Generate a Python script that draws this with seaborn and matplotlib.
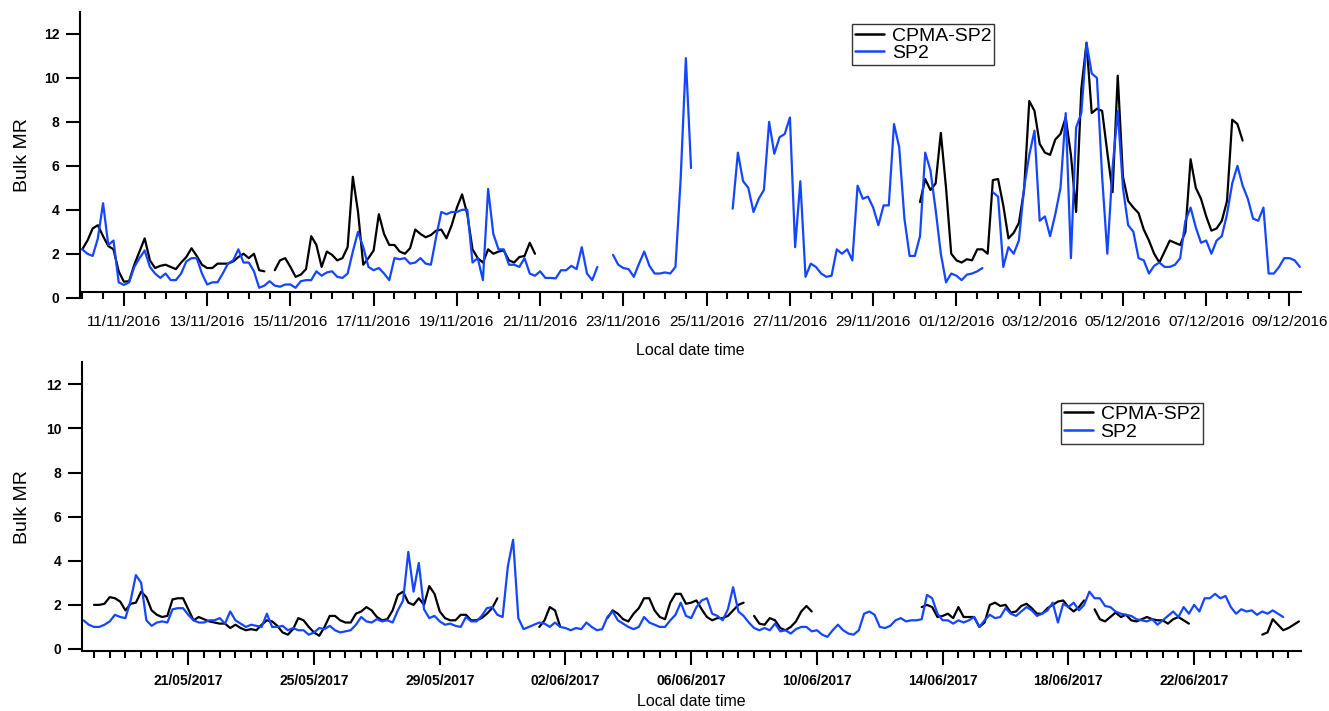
import numpy as np
import pandas as pd
import matplotlib
matplotlib.use("Agg")
import matplotlib.pyplot as plt
import matplotlib.dates as mdates
from matplotlib.lines import Line2D
import seaborn as sns

nan = np.nan

# ---------------- data ----------------
series_names = ["CPMA-SP2", "SP2"]
series_colors = ["#000000", "#1446ff"]

# Top panel (Nov-Dec 2016): 3-hourly values starting 10/11/2016 00:00
top_start = "2016-11-10 00:00"
top_step = "3h"
top_sp2 = [
    2.2, 2.0, 1.9, 2.7, 4.3, 2.4, 2.6, 0.7, 0.58, 0.7,
    1.4, 1.8, 2.15, 1.4, 1.1, 0.9, 1.1, 0.8, 0.8, 1.1,
    1.65, 1.8, 1.8, 1.1, 0.6, 0.7, 0.7, 1.1, 1.55, 1.7,
    2.2, 1.6, 1.6, 1.2, 0.45, 0.55, 0.75, 0.55, 0.5, 0.6,
    0.6, 0.45, 0.75, 0.8, 0.8, 1.2, 1.0, 1.15, 1.2, 0.95,
    0.9, 1.1, 2.1, 3.0, 2.3, 1.4, 1.25, 1.35, 1.1, 0.8,
    1.8, 1.75, 1.8, 1.55, 1.6, 1.8, 1.55, 1.5, 2.75, 3.9,
    3.8, 3.9, 3.9, 4.0, 4.0, 1.6, 1.8, 0.8, 4.95, 2.9,
    2.2, 2.2, 1.5, 1.5, 1.4, 1.8, 1.1, 1.0, 1.2, 0.9,
    0.9, 0.88, 1.25, 1.25, 1.45, 1.3, 2.3, 1.1, 0.8, 1.4,
    nan, nan, 1.95, 1.5, 1.35, 1.3, 0.95, 1.55, 2.1, 1.45,
    1.1, 1.1, 1.15, 1.1, 1.4, 5.4, 10.9, 5.9, nan, nan,
    nan, nan, nan, nan, nan, 4.05, 6.6, 5.3, 5.0, 3.9,
    4.5, 4.9, 8.0, 6.55, 7.3, 7.45, 8.2, 2.3, 5.3, 0.95,
    1.55, 1.4, 1.1, 0.95, 1.0, 2.2, 2.0, 2.2, 1.7, 5.1,
    4.5, 4.6, 4.1, 3.3, 4.2, 4.2, 7.9, 6.85, 3.6, 1.9,
    1.9, 2.8, 6.6, 5.8, 4.0, 2.0, 0.7, 1.1, 1.0, 0.8,
    1.05, 1.1, 1.2, 1.35, nan, 4.8, 4.6, 1.4, 2.3, 2.0,
    2.6, 5.0, 6.5, 7.6, 3.5, 3.7, 2.8, 3.8, 5.0, 8.4,
    1.8, 7.75, 8.4, 11.6, 10.2, 10.0, 5.5, 2.0, 5.9, 8.5,
    5.0, 3.3, 3.0, 1.8, 1.7, 1.1, 1.45, 1.6, 1.4, 1.4,
    1.5, 1.8, 3.5, 4.1, 3.2, 2.5, 2.6, 2.0, 2.6, 2.8,
    3.8, 5.2, 6.0, 5.1, 4.5, 3.6, 3.5, 4.1, 1.1, 1.1,
    1.4, 1.8, 1.8, 1.7, 1.4,
]
top_cpma = [
    2.2, 2.6, 3.15, 3.3, 2.8, 2.35, 2.2, 1.2, 0.73, 0.75,
    1.5, 2.1, 2.7, 1.7, 1.35, 1.45, 1.5, 1.4, 1.3, 1.6,
    1.85, 2.25, 1.9, 1.5, 1.35, 1.35, 1.55, 1.55, 1.55, 1.65,
    1.85, 2.0, 1.8, 2.0, 1.25, 1.2, nan, 1.25, 1.7, 1.8,
    1.4, 0.95, 1.05, 1.3, 2.8, 2.4, 1.4, 2.1, 1.95, 1.7,
    1.8, 2.3, 5.5, 3.9, 1.5, 1.8, 2.15, 3.8, 2.9, 2.4,
    2.4, 2.1, 2.0, 2.25, 3.1, 2.9, 2.75, 2.85, 3.05, 3.1,
    2.7, 3.3, 4.1, 4.7, 3.8, 2.2, 1.8, 1.6, 2.2, 2.0,
    2.1, 2.15, 1.7, 1.6, 1.85, 1.9, 2.5, 2.0,
] + [nan] * 73 + [
    4.35, 5.4, 4.9, 5.2, 7.5, 5.0, 2.0, 1.7, 1.6,
    1.75, 1.7, 2.2, 2.2, 2.0, 5.35, 5.4, 4.2, 2.7, 2.95,
    3.4, 4.9, 8.95, 8.5, 7.0, 6.6, 6.5, 7.2, 7.45, 8.2,
    6.5, 3.9, 9.5, 11.6, 8.4, 8.6, 8.5, 6.6, 4.8, 10.1,
    5.5, 4.4, 4.1, 3.85, 3.1, 2.6, 2.0, 1.6, 2.1, 2.6,
    2.5, 2.4, 3.0, 6.3, 5.0, 4.5, 3.7, 3.05, 3.15, 3.5,
    4.4, 8.1, 7.9, 7.15,
]

# Bottom panel (May-Jun 2017): 4-hourly values starting 17/05/2017 16:00
bot_start = "2017-05-17 16:00"
bot_step = "4h"
bot_sp2 = [
    1.3, 1.1, 1.0, 1.0, 1.1, 1.25, 1.55, 1.45, 1.4, 2.2,
    3.35, 3.0, 1.3, 1.05, 1.2, 1.25, 1.2, 1.8, 1.85, 1.85,
    1.55, 1.3, 1.2, 1.2, 1.3, 1.3, 1.4, 1.15, 1.7, 1.3,
    1.15, 1.0, 1.1, 1.05, 1.0, 1.6, 1.0, 1.0, 1.05, 0.85,
    0.95, 0.85, 0.85, 0.65, 0.75, 0.95, 0.9, 1.05, 0.85, 0.75,
    0.8, 0.85, 1.1, 1.45, 1.25, 1.2, 1.35, 1.25, 1.3, 1.2,
    1.75, 2.2, 4.4, 2.6, 3.9, 1.8, 1.4, 1.5, 1.25, 1.1,
    1.15, 1.05, 1.0, 1.45, 1.25, 1.25, 1.5, 1.85, 1.9, 1.55,
    1.45, 3.75, 4.95, 1.4, 0.9, 1.0, 1.1, 1.2, 1.15, 1.0,
    1.2, 1.0, 0.95, 0.85, 0.95, 0.9, 1.2, 1.0, 0.85, 0.9,
    1.45, 1.7, 1.3, 1.15, 1.0, 0.9, 1.0, 1.45, 1.2, 1.1,
    1.0, 1.0, 1.3, 1.55, 2.1, 1.5, 1.4, 1.9, 2.2, 2.3,
    1.6, 1.5, 1.3, 1.8, 2.8, 1.7, 1.5, 1.2, 0.95, 0.85,
    0.95, 0.85, 1.15, 0.8, 0.85, 0.7, 0.9, 1.0, 1.0, 0.8,
    0.85, 0.65, 0.55, 0.85, 1.1, 0.85, 0.7, 0.65, 0.85, 1.6,
    1.7, 1.55, 1.0, 0.95, 1.05, 1.3, 1.4, 1.25, 1.3, 1.3,
    1.35, 2.45, 2.3, 1.6, 1.3, 1.3, 1.15, 1.3, 1.2, 1.3,
    1.45, 1.0, 1.3, 1.55, 1.4, 1.45, 1.85, 1.6, 1.5, 1.7,
    1.9, 1.75, 1.5, 1.6, 1.75, 2.1, 1.2, 2.05, 1.9, 2.1,
    1.75, 2.0, 2.6, 2.3, 2.3, 1.95, 1.9, 1.7, 1.6, 1.55,
    1.5, 1.35, 1.3, 1.25, 1.35, 1.1, 1.3, 1.5, 1.7, 1.45,
    1.9, 1.6, 2.0, 1.7, 2.3, 2.3, 2.5, 2.3, 2.4, 1.9,
    1.6, 1.8, 1.7, 1.75, 1.55, 1.7, 1.6, 1.75, 1.6, 1.45,
    nan, nan, nan,
]
bot_cpma = [
    nan, nan, 2.0, 2.0, 2.05, 2.35, 2.3, 2.15, 1.75, 2.05,
    2.1, 2.6, 2.35, 1.75, 1.55, 1.45, 1.5, 2.25, 2.3, 2.3,
    1.8, 1.3, 1.45, 1.35, 1.25, 1.2, 1.15, 1.15, 0.95, 1.1,
    0.95, 0.85, 0.9, 0.85, 1.1, 1.3, 1.25, 1.05, 0.75, 0.65,
    0.9, 1.4, 1.3, 1.0, 0.75, 0.6, 1.0, 1.5, 1.5, 1.3,
    1.2, 1.2, 1.6, 1.7, 1.9, 1.75, 1.45, 1.3, 1.35, 1.75,
    2.45, 2.6, 2.1, 2.0, 2.3, 2.0, 2.85, 2.5, 1.7, 1.4,
    1.3, 1.3, 1.55, 1.55, 1.3, 1.3, 1.4, 1.6, 1.85, 2.3,
    nan, nan, nan, nan, nan, nan, nan, 1.0, 1.3, 1.9,
    1.75, 1.0, nan, nan, nan, nan, nan, nan, nan, nan,
    1.4, 1.75, 1.6, 1.35, 1.25, 1.6, 1.85, 2.3, 2.3, 1.75,
    1.45, 1.35, 2.1, 2.5, 2.5, 2.05, 2.1, 2.2, 1.8, 1.45,
    1.3, 1.4, 1.4, 1.5, 1.75, 2.0, 2.1, nan, 1.5, 1.15,
    1.1, 1.4, 1.3, 0.95, 0.85, 1.0, 1.25, 1.7, 1.95, 1.7,
    nan, nan, nan, nan, nan, nan, nan, nan, nan, nan,
    nan, nan, nan, nan, nan, nan, nan, nan, nan, nan,
    1.9, 2.0, 1.9, 1.45, 1.5, 1.6, 1.4, 1.9, 1.45, 1.45,
    1.45, 1.0, 1.2, 2.0, 2.1, 1.95, 2.0, 1.65, 1.7, 1.95,
    2.05, 1.85, 1.6, 1.6, 1.85, 2.0, 2.15, 2.2, 1.9, 1.7,
    1.9, 2.2, nan, 1.8, 1.35, 1.25, 1.45, 1.65, 1.45, 1.55,
    1.3, 1.25, 1.35, 1.45, 1.35, 1.3, 1.3, 1.15, 1.35, 1.45,
    1.3, 1.15, nan, nan, nan, nan, nan, nan, nan, nan,
    nan, nan, nan, nan, nan, 0.65, 0.75, 1.35, 1.1, 0.85,
    0.95, 1.1, 1.25,
]

# axis ticks
y_ticks = [0, 2, 4, 6, 8, 10, 12]
top_major = pd.date_range("2016-11-11", "2016-12-09", freq="2D")
top_minor = pd.date_range("2016-11-10", "2016-12-09", freq="12h")
bot_major = pd.date_range("2017-05-21", "2017-06-22", freq="4D")
bot_minor = pd.date_range("2017-05-18", "2017-06-25", freq="12h")
top_xlim = (pd.Timestamp("2016-11-10 00:00") - pd.Timedelta(hours=1.3),
            pd.Timestamp("2016-11-10 00:00") + pd.Timedelta(days=29.27))
bot_xlim = (pd.Timestamp("2017-05-18 00:00") - pd.Timedelta(days=0.372),
            pd.Timestamp("2017-05-18 00:00") + pd.Timedelta(days=38.39))

# ---------------- style ----------------
sns.set_theme(style="ticks", rc={
    "text.color": "black", "axes.labelcolor": "black",
    "xtick.color": "black", "ytick.color": "black",
    "axes.edgecolor": "black",
})
plt.rcParams["font.family"] = ["Liberation Sans", "DejaVu Sans"]

W, H = 1329, 711
fig = plt.figure(figsize=(W / 100, H / 100), dpi=100)
ax1 = fig.add_axes([80 / W, 1 - 297.7 / H, 1220.7 / W, 285.7 / H])
ax2 = fig.add_axes([82.3 / W, 1 - 651.2 / H, 1218.4 / W, 289.0 / H])


def draw(ax, start, step, values, color):
    t = pd.date_range(start, periods=len(values), freq=step)
    v = pd.Series(values, dtype=float)
    df = pd.DataFrame({"time": t, "value": v.values,
                       "seg": v.isna().cumsum().values}).dropna()
    sns.lineplot(data=df, x="time", y="value", units="seg", estimator=None,
                 color=color, lw=1.6, ax=ax, legend=False)


draw(ax1, top_start, top_step, top_cpma, series_colors[0])
draw(ax1, top_start, top_step, top_sp2, series_colors[1])
draw(ax2, bot_start, bot_step, bot_cpma, series_colors[0])
draw(ax2, bot_start, bot_step, bot_sp2, series_colors[1])


def style_axis(ax, major, minor, xlim, ylim, xlab_y, ylab_x, legend_xy):
    ax.set_xlim(mdates.date2num(xlim[0]), mdates.date2num(xlim[1]))
    ax.set_ylim(*ylim)
    sns.despine(ax=ax)
    for s in ("left", "bottom"):
        ax.spines[s].set_linewidth(1.5)
    ax.set_xticks(mdates.date2num(major),
                  labels=[d.strftime("%d/%m/%Y") for d in major],
                  fontweight="bold", fontsize=10)
    ax.set_xticks(mdates.date2num(minor), minor=True)
    ax.set_yticks(y_ticks, labels=[str(v) for v in y_ticks],
                  fontweight="bold", fontsize=10)
    ax.tick_params(axis="both", which="major", direction="out",
                   length=10, width=1.5)
    ax.tick_params(axis="x", which="major", pad=6.5)
    ax.tick_params(axis="y", which="major", pad=5)
    ax.tick_params(axis="x", which="minor", direction="out", length=5, width=1.5)
    ax.set_xlabel("Local date time", fontsize=11.5)
    ax.xaxis.set_label_coords(0.5, xlab_y)
    ax.set_ylabel("Bulk MR", fontsize=14)
    ax.yaxis.set_label_coords(ylab_x, 0.5)
    handles = [Line2D([], [], color=c, lw=1.8) for c in series_colors]
    leg = ax.legend(handles, series_names, loc="upper left",
                    bbox_to_anchor=legend_xy, bbox_transform=fig.transFigure,
                    fontsize=14, frameon=True, fancybox=False, framealpha=1,
                    edgecolor="#333333", borderpad=0.15, labelspacing=0.0,
                    handlelength=1.5, handletextpad=0.4, borderaxespad=0)
    leg.get_frame().set_linewidth(1.0)


style_axis(ax1, top_major, top_minor, top_xlim, (0, 13), -0.158, -0.0403,
           (852 / W, 1 - 24 / H))
ax1.spines["bottom"].set_position(("data", 0.25))
style_axis(ax2, bot_major, bot_minor, bot_xlim, (-0.1, 13), -0.147, -0.0423,
           (1060.7 / W, 1 - 402.7 / H))

fig.savefig("out.png", dpi=100)
